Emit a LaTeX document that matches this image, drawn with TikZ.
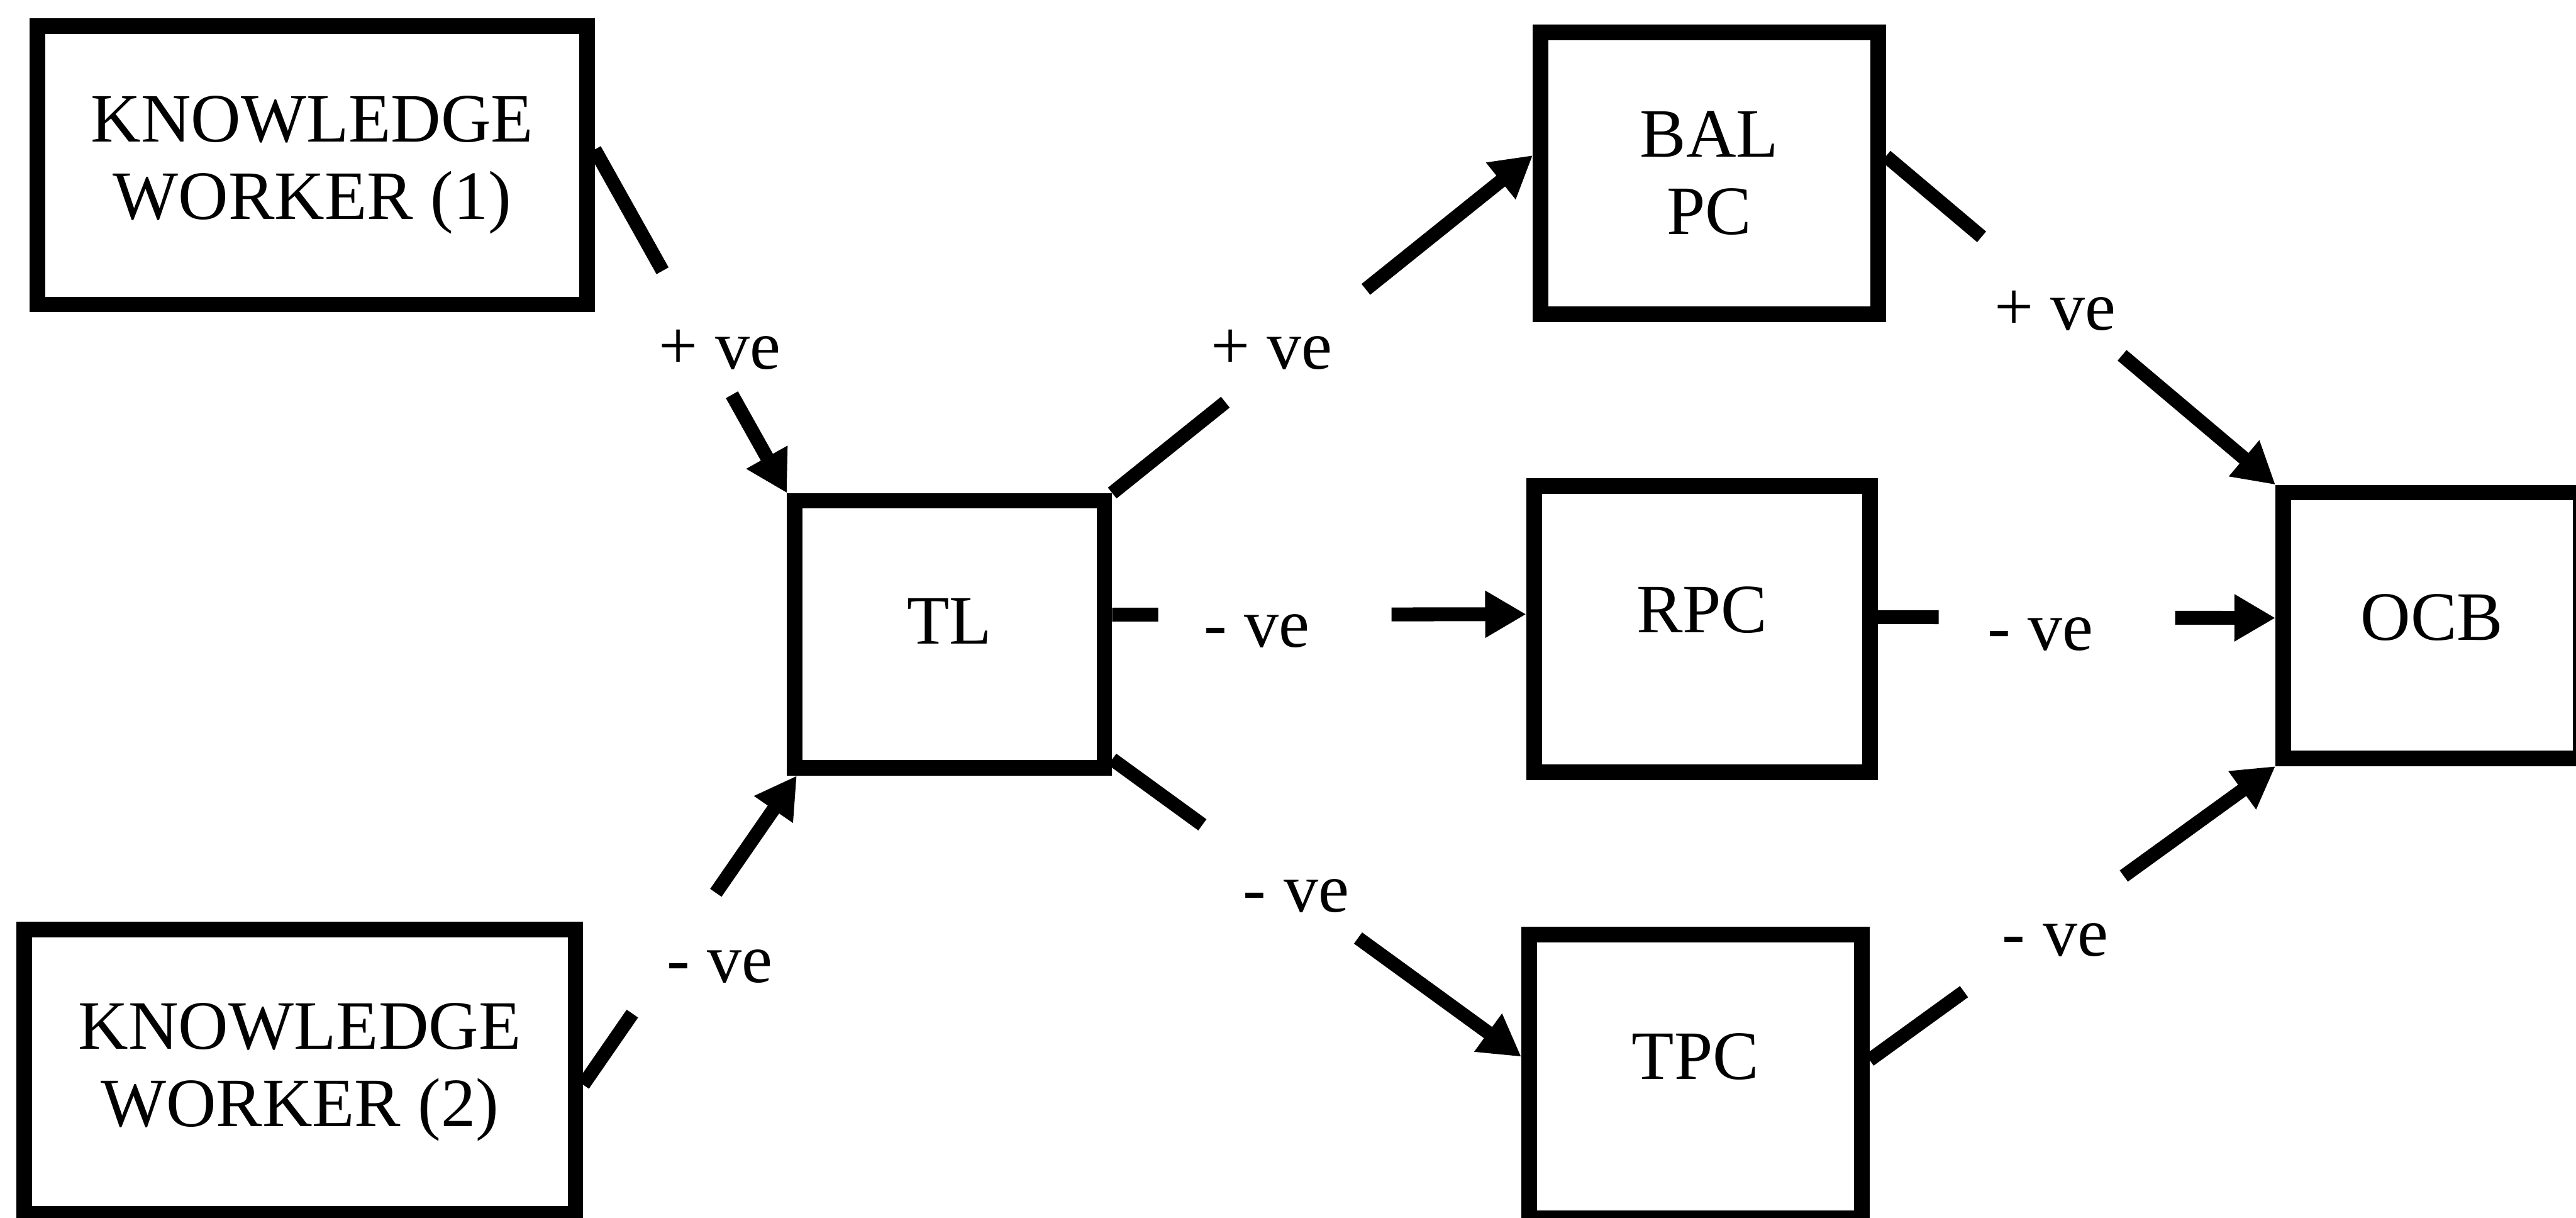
\documentclass[tikz,border=0pt]{standalone}
\usepackage{fontspec}
\setmainfont{Liberation Serif}
\usetikzlibrary{arrows.meta}
\newcommand{\lift}[2]{\raisebox{#1}[\height][\depth]{#2}}

\begin{document}
\begin{tikzpicture}[
  x=0.1mm, y=-0.1mm,
  box/.style={draw, line width=2.7pt, align=center, inner sep=2pt,
    font=\fontsize{12}{13.4}\selectfont},
  effect/.style={inner sep=0pt, font=\fontsize{12}{13.4}\selectfont},
  link/.style={line width=2.4pt},
  arrow/.style={link, -{Triangle[length=2.5mm, width=2.7mm]}}
]
\useasboundingbox (0,0) rectangle (1568,741);

% boxes
\node[box, minimum width=33.45mm, minimum height=16.95mm] (kw1) at (190,100.5) {KNOWLEDGE\\WORKER (1)};
\node[box, minimum width=33.55mm, minimum height=17.3mm] (kw2) at (182.5,652.25) {KNOWLEDGE\\WORKER (2)};
\node[box, minimum width=18.85mm, minimum height=16.25mm] (tl) at (578,386) {\lift{2.3pt}{TL}};
\node[box, minimum width=20.55mm, minimum height=17.15mm] (bal) at (1040.5,105.5) {BAL\\PC};
\node[box, minimum width=20.45mm, minimum height=17.4mm] (rpc) at (1036,382.75) {\lift{3.3pt}{RPC}};
\node[box, minimum width=20.25mm, minimum height=17.26mm] (tpc) at (1032,655) {\lift{3.4pt}{TPC}};
\node[box, minimum width=18.12mm, minimum height=16.18mm] (ocb) at (1480.4,380.6) {\lift{1.4pt}{OCB}};

% signs on the links
\node[effect] (kw1-tl) at (438,213) {+ ve};
\node[effect] (kw2-tl) at (438,588) {- ve};
\node[effect] (tl-bal) at (774,213) {+ ve};
\node[effect] (tl-rpc) at (765,384) {- ve};
\node[effect] (tl-tpc) at (789,545) {- ve};
\node[effect] (bal-ocb) at (1251,189) {+ ve};
\node[effect] (rpc-ocb) at (1242,386) {- ve};
\node[effect] (tpc-ocb) at (1251,572) {- ve};

% each link is cut round its sign
\draw[link, shorten >=15.5mm] ([yshift=0.95mm]kw1.east) -- (tl.north west);
\draw[arrow, shorten <=17.1mm] ([yshift=0.95mm]kw1.east) -- (tl.north west);
\draw[link, shorten >=17.6mm] ([yshift=-0.78mm]kw2.east) -- ([xshift=0.6mm]tl.south west);
\draw[arrow, shorten <=14.2mm] ([yshift=-0.78mm]kw2.east) -- ([xshift=0.6mm]tl.south west);
\draw[link, shorten >=24mm] (tl.north east) -- ([yshift=1.1mm]bal.west);
\draw[arrow, shorten <=19.8mm] (tl.north east) -- ([yshift=1.1mm]bal.west);
\draw[link, shorten >=22.4mm] ([yshift=1.2mm]tl.east) -- ([yshift=0.9mm]rpc.west);
\draw[arrow, shorten <=17mm] ([yshift=1.2mm]tl.east) -- ([yshift=0.9mm]rpc.west);
\draw[link, shorten >=24mm] ([yshift=1mm]tl.south east) -- ([yshift=1.2mm]tpc.west);
\draw[arrow, shorten <=18.5mm] ([yshift=1mm]tl.south east) -- ([yshift=1.2mm]tpc.west);
\draw[link, shorten >=23.4mm] ([yshift=1.05mm]bal.east) -- (ocb.north west);
\draw[arrow, shorten <=18.8mm] ([yshift=1.05mm]bal.east) -- (ocb.north west);
\draw[link, shorten >=20.5mm] ([yshift=0.73mm]rpc.east) -- ([yshift=0.46mm]ocb.west);
\draw[arrow, shorten <=18.1mm] ([yshift=0.73mm]rpc.east) -- ([yshift=0.46mm]ocb.west);
\draw[link, shorten >=23.4mm] ([yshift=1mm]tpc.east) -- (ocb.south west);
\draw[arrow, shorten <=19.1mm] ([yshift=1mm]tpc.east) -- (ocb.south west);
\end{tikzpicture}
\end{document}
